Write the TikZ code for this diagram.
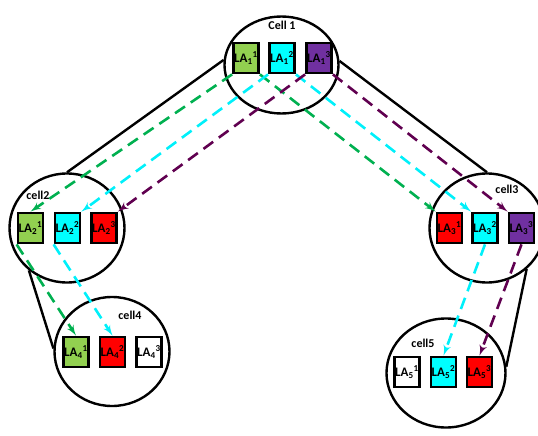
\documentclass[tikz,border=0pt]{standalone}
\usepackage{fontspec}
\setmainfont{Carlito}
\usepackage{xcolor}
\usepackage{tikz}
\usetikzlibrary{arrows}
\usetikzlibrary{shapes.geometric}
\tikzset{>=latex'}
\definecolor{lagreen}{RGB}{146,208,80}
\definecolor{lacyan}{RGB}{0,255,255}
\definecolor{lapurple}{RGB}{112,48,160}
\definecolor{lared}{RGB}{255,0,0}
\definecolor{flowgreen}{RGB}{0,176,80}
\definecolor{flowcyan}{RGB}{0,240,250}
\definecolor{flowpurple}{RGB}{96,0,80}

\begin{document}
\begin{tikzpicture}[x=1pt,y=-1pt,font=\bfseries\fontsize{12}{14}\selectfont,
	cell/.style={draw,ellipse,line width=2.4pt,minimum width=115pt,minimum height=109pt,inner sep=0pt},
	la/.style={draw,line width=2.8pt,minimum width=25pt,minimum height=30pt,inner sep=0pt,font=\bfseries\fontsize{13}{13}\selectfont},
	flow/.style={->,line width=2.6pt,dash pattern=on 12pt off 7pt}]
	\useasboundingbox (0,0) rectangle (538,436);
	\node[cell,minimum width=114pt,minimum height=97pt] (cell1) at (281.5,65) {};
	\node[cell] (cell2) at (67,228) {};
	\node[cell] (cell3) at (487,228) {};
	\node[cell] (cell4) at (112,351.5) {};
	\node[cell,minimum width=119pt] (cell5) at (446,373) {};
	\draw[line width=2.4pt] (cell1.175) -- (cell2.90);
	\draw[line width=2.4pt] (cell1.4) -- (cell3.90);
	\draw[line width=2.4pt] (cell2.228) -- (cell4.177);
	\draw[line width=2.4pt] (cell3.314) -- (cell5.6);
	\node (name1) at (282,25) {Cell 1};
	\node (name2) at (38,195) {cell2};
	\node (name3) at (507,189) {cell3};
	\node (name4) at (130,315) {cell4};
	\node (name5) at (423,343) {cell5};
	\node[la,fill=lagreen] (la11) at (246,58) {LA\textsubscript{1}\textsuperscript{1}};
	\node[la,fill=lacyan] (la12) at (282,58) {LA\textsubscript{1}\textsuperscript{2}};
	\node[la,fill=lapurple] (la13) at (319,58) {LA\textsubscript{1}\textsuperscript{3}};
	\node[la,fill=lagreen] (la21) at (30.5,228) {LA\textsubscript{2}\textsuperscript{1}};
	\node[la,fill=lacyan] (la22) at (67.5,228) {LA\textsubscript{2}\textsuperscript{2}};
	\node[la,fill=lared] (la23) at (104,228) {LA\textsubscript{2}\textsuperscript{3}};
	\node[la,fill=lared] (la31) at (449.5,228) {LA\textsubscript{3}\textsuperscript{1}};
	\node[la,fill=lacyan] (la32) at (485,228) {LA\textsubscript{3}\textsuperscript{2}};
	\node[la,fill=lapurple] (la33) at (521.5,228) {LA\textsubscript{3}\textsuperscript{3}};
	\node[la,fill=lagreen] (la41) at (76,352) {LA\textsubscript{4}\textsuperscript{1}};
	\node[la,fill=lared] (la42) at (112.5,352) {LA\textsubscript{4}\textsuperscript{2}};
	\node[la,fill=white] (la43) at (149,352) {LA\textsubscript{4}\textsuperscript{3}};
	\node[la,fill=white] (la51) at (407,372) {LA\textsubscript{5}\textsuperscript{1}};
	\node[la,fill=lacyan] (la52) at (443.5,372) {LA\textsubscript{5}\textsuperscript{2}};
	\node[la,fill=lared] (la53) at (479.5,372) {LA\textsubscript{5}\textsuperscript{3}};
	\draw[flow,flowgreen] (la11.south west) -- (la21.north);
	\draw[flow,flowgreen] (la11.south east) -- (la31.north west);
	\draw[flow,flowgreen] (la21.south west) -- (la41.north);
	\draw[flow,flowcyan] (la12.south west) -- (la22.north east);
	\draw[flow,flowcyan] (la12.south east) -- (la32.north west);
	\draw[flow,flowcyan] (la22.south west) -- (la42.north);
	\draw[flow,flowcyan] (la32.south) -- (la52.north);
	\draw[flow,flowpurple] (la13.south west) -- (la23.north east);
	\draw[flow,flowpurple] (la13.south east) -- (la33.north west);
	\draw[flow,flowpurple] (la33.south) -- (la53.north);
\end{tikzpicture}
\end{document}
